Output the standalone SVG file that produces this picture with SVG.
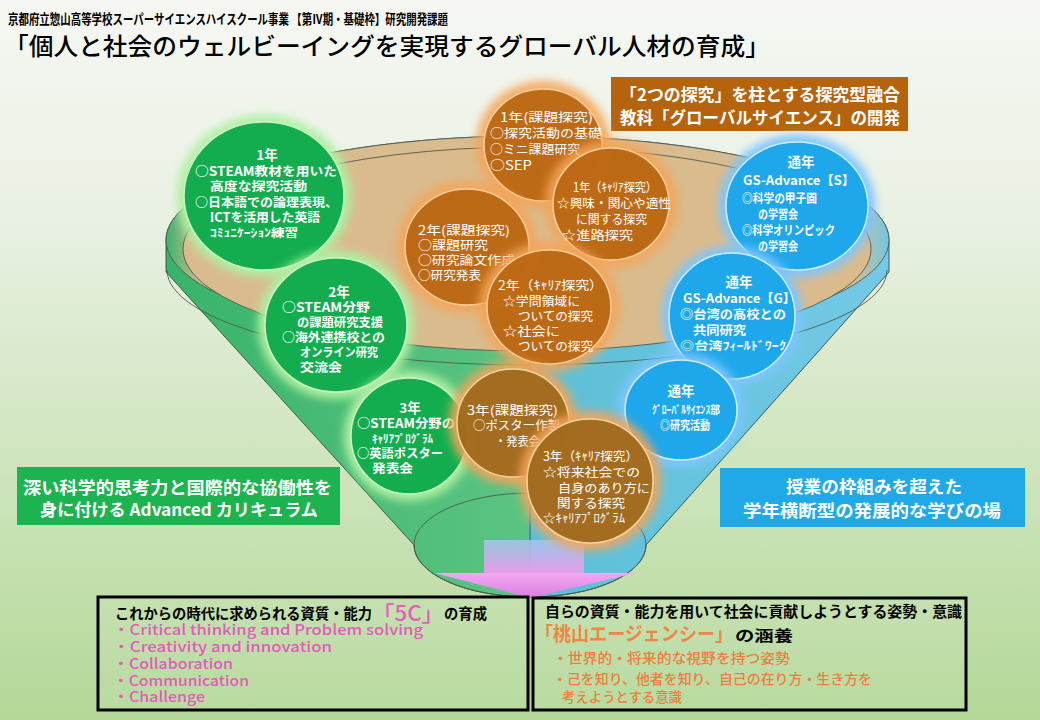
<svg xmlns="http://www.w3.org/2000/svg" width="1040" height="720" viewBox="0 0 1040 720">
<defs>
<linearGradient id="bg" x1="0" y1="0" x2="0" y2="1">
<stop offset="0" stop-color="#f6f7f3"/>
<stop offset="0.3" stop-color="#e9f1e3"/>
<stop offset="1" stop-color="#b3d897"/>
</linearGradient>
<linearGradient id="body" gradientUnits="userSpaceOnUse" x1="166" y1="0" x2="889" y2="0">
<stop offset="0" stop-color="#38b36a"/>
<stop offset="0.5" stop-color="#5cc483"/>
<stop offset="0.503" stop-color="#5bbfd6"/>
<stop offset="1" stop-color="#74c9e6"/>
</linearGradient>
<linearGradient id="rim" gradientUnits="userSpaceOnUse" x1="166" y1="0" x2="889" y2="0">
<stop offset="0" stop-color="#3cb46c"/>
<stop offset="0.05" stop-color="#d8bb8f"/>
<stop offset="0.95" stop-color="#d8bb8f"/>
<stop offset="1" stop-color="#70c7e5"/>
</linearGradient>
<linearGradient id="shaft" x1="0" y1="0" x2="0" y2="1">
<stop offset="0" stop-color="#a9c6f2" stop-opacity="0.8"/>
<stop offset="1" stop-color="#e99be9"/>
</linearGradient>
<linearGradient id="head" x1="0" y1="0" x2="0" y2="1">
<stop offset="0" stop-color="#f2a8f2"/>
<stop offset="1" stop-color="#d97ee2"/>
</linearGradient>
<filter id="blur" x="-40%" y="-40%" width="180%" height="180%">
<feGaussianBlur stdDeviation="5"/>
</filter>
<style>
text { font-family: "Noto Sans CJK JP", "Noto Sans CJK SC", sans-serif; }
.hl { font-size: 13.5px; font-weight: 700; fill: #000; }
.ttl { font-size: 24px; font-weight: 500; fill: #000; }
.cg { fill: #13ad50; stroke: #c9f3c4; stroke-width: 1.5; }
.cb { fill: #b5610c; fill-opacity: 0.86; stroke: #f7cf9a; stroke-width: 1.5; }
.cd { fill: #9a6418; fill-opacity: 0.88; stroke: #f2d6a0; stroke-width: 1.5; }
.cu { fill: #1ea7ea; stroke: #cfefff; stroke-width: 1.5; }
.gg { fill: #aef0a2; filter: url(#blur); }
.gb { fill: #f5a458; filter: url(#blur); opacity: 0.9; }
.gu { fill: #7cc6ff; filter: url(#blur); }
.tg { font-size: 12.5px; font-weight: 700; fill: #fff; }
.tb { font-size: 12.5px; font-weight: 400; fill: #fff; }
.tu { font-size: 12.5px; font-weight: 700; fill: #fff; }
.hk { font-size: 11.5px; }
.yr { font-size: 13.5px; }
.lab { font-size: 17px; font-weight: 700; fill: #fff; }
.ring { fill: none; stroke: #4d5a4d; stroke-width: 0.9; }
.box { fill: #ffffff; fill-opacity: 0.08; stroke: #000; stroke-width: 3; }
.hd { font-size: 14.5px; font-weight: 700; fill: #000; }
.pk { font-size: 14.5px; font-weight: 500; fill: #e05cbd; }
.or { font-size: 14px; font-weight: 500; fill: #ef7c3c; }
</style>
</defs>

<rect x="0" y="0" width="1040" height="720" fill="url(#bg)"/>

<g id="header">
<text class="hl" x="8" y="24" textLength="440" lengthAdjust="spacingAndGlyphs">京都府立惣山高等学校スーパーサイエンスハイスクール事業 【第Ⅳ期・基礎枠】研究開発課題</text>
<text class="ttl" x="4" y="55" textLength="766" lengthAdjust="spacingAndGlyphs">「個人と社会のウェルビーイングを実現するグローバル人材の育成」</text>
</g>

<g id="funnel">
<path d="M166,240 A361.5,104 0 0 1 889,240 L889,272 L646,545 A116,52 0 0 1 414,545 L166,272 Z" fill="url(#body)" stroke="#3d4a3d" stroke-width="0.9"/>
<ellipse cx="527.5" cy="240" rx="361.5" ry="104" fill="url(#rim)" stroke="#4d5a4d" stroke-width="0.9"/>
<ellipse cx="527" cy="249" rx="344" ry="102" fill="#dabb8d" stroke="#4d5a4d" stroke-width="0.9"/>
<path class="ring" d="M167,270 A360,95 0 0 0 887,270"/>
<ellipse class="ring" cx="530" cy="545" rx="116" ry="52"/>
<line x1="530" y1="351" x2="530" y2="597" stroke="#3d4a3d" stroke-width="0.9"/>
</g>

<g id="connectors">
<rect x="484" y="540" width="100" height="34" fill="url(#shaft)"/>
<polygon points="434,573 636,573 530,598" fill="url(#head)"/>
</g>

<g id="node-label-brown">
<rect x="611" y="77" width="297" height="54" fill="#b5640d"/>
<text class="lab" x="620" y="101" textLength="280" lengthAdjust="spacingAndGlyphs">「2つの探究」を柱とする探究型融合</text>
<text class="lab" x="620" y="124" textLength="280" lengthAdjust="spacingAndGlyphs">教科「グローバルサイエンス」の開発</text>
</g>

<g id="node-g1">
<ellipse class="gg" cx="264" cy="196" rx="87" ry="81"/>
<ellipse class="cg" cx="264" cy="196" rx="80" ry="74"/>
<text class="tg yr" x="267" y="160" text-anchor="middle">1年</text>
<text class="tg" x="195" y="175.5" textLength="142" lengthAdjust="spacingAndGlyphs">○STEAM教材を用いた</text>
<text class="tg" x="210" y="191" textLength="97" lengthAdjust="spacingAndGlyphs">高度な探究活動</text>
<text class="tg" x="195" y="206.5" textLength="143" lengthAdjust="spacingAndGlyphs">○日本語での論理表現、</text>
<text class="tg" x="210" y="222" textLength="110" lengthAdjust="spacingAndGlyphs">ICTを活用した英語</text>
<text class="tg hk" x="210" y="236.5" textLength="88" lengthAdjust="spacingAndGlyphs">ｺﾐｭﾆｹｰｼｮﾝ練習</text>
</g>

<g id="node-g2">
<ellipse class="gg" cx="336" cy="325" rx="78" ry="74"/>
<ellipse class="cg" cx="336" cy="325" rx="71" ry="67"/>
<text class="tg yr" x="339" y="297" text-anchor="middle">2年</text>
<text class="tg" x="282" y="312" textLength="88" lengthAdjust="spacingAndGlyphs">○STEAM分野</text>
<text class="tg" x="297" y="327" textLength="86" lengthAdjust="spacingAndGlyphs">の課題研究支援</text>
<text class="tg" x="282" y="342" textLength="103" lengthAdjust="spacingAndGlyphs">○海外連携校との</text>
<text class="tg" x="300" y="357" textLength="78" lengthAdjust="spacingAndGlyphs">オンライン研究</text>
<text class="tg" x="300" y="372" textLength="42" lengthAdjust="spacingAndGlyphs">交流会</text>
</g>

<g id="node-g3">
<ellipse class="gg" cx="409" cy="436" rx="65" ry="65"/>
<ellipse class="cg" cx="409" cy="436" rx="58" ry="58"/>
<text class="tg yr" x="410" y="413" text-anchor="middle">3年</text>
<text class="tg" x="357" y="428" textLength="98" lengthAdjust="spacingAndGlyphs">○STEAM分野の</text>
<text class="tg hk" x="372" y="443" textLength="61" lengthAdjust="spacingAndGlyphs">ｷｬﾘｱﾌﾟﾛｸﾞﾗﾑ</text>
<text class="tg" x="357" y="458" textLength="86" lengthAdjust="spacingAndGlyphs">○英語ポスター</text>
<text class="tg" x="372" y="473" textLength="41" lengthAdjust="spacingAndGlyphs">発表会</text>
</g>

<g id="node-o1">
<ellipse class="gb" cx="543" cy="145" rx="67" ry="64"/>
<ellipse class="cb" cx="543" cy="145" rx="59" ry="56"/>
<text class="tb" x="500" y="122" textLength="93" lengthAdjust="spacingAndGlyphs">1年(課題探究)</text>
<text class="tb" x="490" y="138" textLength="112" lengthAdjust="spacingAndGlyphs">○探究活動の基礎</text>
<text class="tb" x="490" y="154" textLength="90" lengthAdjust="spacingAndGlyphs">○ミニ課題研究</text>
<text class="tb" x="490" y="170" textLength="42" lengthAdjust="spacingAndGlyphs">○SEP</text>
</g>

<g id="node-o2">
<ellipse class="gb" cx="611" cy="204" rx="66" ry="64"/>
<ellipse class="cb" cx="611" cy="204" rx="58" ry="56"/>
<text class="tb" x="573" y="192" textLength="84" lengthAdjust="spacingAndGlyphs">1年（ｷｬﾘｱ探究）</text>
<text class="tb" x="557" y="208" textLength="114" lengthAdjust="spacingAndGlyphs">☆興味・関心や適性</text>
<text class="tb" x="576" y="224" textLength="71" lengthAdjust="spacingAndGlyphs">に関する探究</text>
<text class="tb" x="562" y="240" textLength="71" lengthAdjust="spacingAndGlyphs">☆進路探究</text>
</g>

<g id="node-o3">
<ellipse class="gb" cx="467" cy="247" rx="70" ry="66"/>
<ellipse class="cb" cx="467" cy="247" rx="62" ry="58"/>
<text class="tb" x="418" y="235" textLength="92" lengthAdjust="spacingAndGlyphs">2年(課題探究)</text>
<text class="tb" x="418" y="250" textLength="70" lengthAdjust="spacingAndGlyphs">○課題研究</text>
<text class="tb" x="418" y="265" textLength="97" lengthAdjust="spacingAndGlyphs">○研究論文作成</text>
<text class="tb" x="418" y="280" textLength="63" lengthAdjust="spacingAndGlyphs">○研究発表</text>
</g>

<g id="node-o4">
<ellipse class="gb" cx="549" cy="307" rx="70" ry="65"/>
<ellipse class="cb" cx="549" cy="307" rx="62" ry="57"/>
<text class="tb" x="498" y="290" textLength="105" lengthAdjust="spacingAndGlyphs">2年（ｷｬﾘｱ探究）</text>
<text class="tb" x="503" y="306" textLength="77" lengthAdjust="spacingAndGlyphs">☆学問領域に</text>
<text class="tb" x="518" y="321" textLength="75" lengthAdjust="spacingAndGlyphs">ついての探究</text>
<text class="tb" x="503" y="336" textLength="57" lengthAdjust="spacingAndGlyphs">☆社会に</text>
<text class="tb" x="518" y="351" textLength="75" lengthAdjust="spacingAndGlyphs">ついての探究</text>
</g>

<g id="node-o5">
<ellipse class="gb" cx="513" cy="423" rx="64" ry="62"/>
<ellipse class="cd" cx="513" cy="423" rx="56" ry="54"/>
<text class="tb" x="467" y="415" textLength="91" lengthAdjust="spacingAndGlyphs">3年(課題探究)</text>
<text class="tb" x="473" y="430" textLength="87" lengthAdjust="spacingAndGlyphs">○ポスター作製</text>
<text class="tb" x="495" y="446" textLength="45" lengthAdjust="spacingAndGlyphs">・発表会</text>
</g>

<g id="node-b1">
<ellipse class="gu" cx="797" cy="206" rx="78" ry="71"/>
<ellipse class="cu" cx="797" cy="206" rx="71" ry="64"/>
<text class="tu yr" x="801" y="167" text-anchor="middle">通年</text>
<text class="tu" x="743" y="185" textLength="112" lengthAdjust="spacingAndGlyphs">GS-Advance【S】</text>
<text class="tu" x="742" y="203" textLength="75" lengthAdjust="spacingAndGlyphs">◎科学の甲子園</text>
<text class="tu" x="758" y="219" textLength="40" lengthAdjust="spacingAndGlyphs">の学習会</text>
<text class="tu" x="742" y="235" textLength="93" lengthAdjust="spacingAndGlyphs">◎科学オリンピック</text>
<text class="tu" x="758" y="251" textLength="40" lengthAdjust="spacingAndGlyphs">の学習会</text>
</g>

<g id="node-b2">
<ellipse class="gu" cx="732" cy="316" rx="70" ry="70"/>
<ellipse class="cu" cx="732" cy="316" rx="63" ry="63"/>
<text class="tu yr" x="739" y="287" text-anchor="middle">通年</text>
<text class="tu" x="683" y="303" textLength="113" lengthAdjust="spacingAndGlyphs">GS-Advance【G】</text>
<text class="tu" x="680" y="319" textLength="106" lengthAdjust="spacingAndGlyphs">◎台湾の高校との</text>
<text class="tu" x="693" y="335" textLength="53" lengthAdjust="spacingAndGlyphs">共同研究</text>
<text class="tu hk" x="680" y="350" textLength="106" lengthAdjust="spacingAndGlyphs">◎台湾ﾌｨｰﾙﾄﾞﾜｰｸ</text>
</g>

<g id="node-b3">
<ellipse class="gu" cx="681" cy="410" rx="63" ry="57"/>
<ellipse class="cu" cx="681" cy="410" rx="56" ry="50"/>
<text class="tu yr" x="681" y="396" text-anchor="middle">通年</text>
<text class="tu hk" x="652" y="414" textLength="68" lengthAdjust="spacingAndGlyphs">ｸﾞﾛｰﾊﾞﾙｻｲｴﾝｽ部</text>
<text class="tu" x="660" y="430" textLength="50" lengthAdjust="spacingAndGlyphs">◎研究活動</text>
</g>

<g id="node-o6">
<ellipse class="gb" cx="590" cy="481" rx="71" ry="70"/>
<ellipse class="cd" cx="590" cy="481" rx="63" ry="62"/>
<text class="tb" x="543" y="461" textLength="95" lengthAdjust="spacingAndGlyphs">3年（ｷｬﾘｱ探究）</text>
<text class="tb" x="543" y="477" textLength="97" lengthAdjust="spacingAndGlyphs">☆将来社会での</text>
<text class="tb" x="558" y="493" textLength="92" lengthAdjust="spacingAndGlyphs">自身のあり方に</text>
<text class="tb" x="557" y="508" textLength="68" lengthAdjust="spacingAndGlyphs">関する探究</text>
<text class="tb" x="543" y="523" textLength="82" lengthAdjust="spacingAndGlyphs">☆ｷｬﾘｱﾌﾟﾛｸﾞﾗﾑ</text>
</g>

<g id="node-label-green">
<rect x="17" y="467" width="323" height="58" fill="#1db350"/>
<text class="lab" x="23" y="494" font-size="18" textLength="309" lengthAdjust="spacingAndGlyphs">深い科学的思考力と国際的な協働性を</text>
<text class="lab" x="40" y="516" font-size="18" textLength="278" lengthAdjust="spacingAndGlyphs">身に付ける Advanced カリキュラム</text>
</g>

<g id="node-label-blue">
<rect x="720" y="468" width="305" height="59" fill="#20a9e6"/>
<text class="lab" x="786" y="493" font-size="18" textLength="176" lengthAdjust="spacingAndGlyphs">授業の枠組みを超えた</text>
<text class="lab" x="743" y="517" font-size="18" textLength="258" lengthAdjust="spacingAndGlyphs">学年横断型の発展的な学びの場</text>
</g>

<g id="node-5c">
<rect class="box" x="98" y="597" width="430" height="113"/>
<text class="hd" x="115" y="619" textLength="257" lengthAdjust="spacingAndGlyphs">これからの時代に求められる資質・能力</text>
<text x="372" y="621" font-size="21" font-weight="500" fill="#e45ebf" textLength="72" lengthAdjust="spacingAndGlyphs">「5C」</text>
<text class="hd" x="444" y="619" textLength="43" lengthAdjust="spacingAndGlyphs">の育成</text>
<text class="pk" x="113" y="635" textLength="310" lengthAdjust="spacingAndGlyphs">・Critical thinking and Problem solving</text>
<text class="pk" x="113" y="652" textLength="219" lengthAdjust="spacingAndGlyphs">・Creativity and innovation</text>
<text class="pk" x="113" y="669" textLength="120" lengthAdjust="spacingAndGlyphs">・Collaboration</text>
<text class="pk" x="113" y="686" textLength="136" lengthAdjust="spacingAndGlyphs">・Communication</text>
<text class="pk" x="113" y="702" textLength="92" lengthAdjust="spacingAndGlyphs">・Challenge</text>
</g>

<g id="node-agency">
<rect class="box" x="533" y="598" width="433" height="112"/>
<text class="hd" x="545" y="617" font-size="15" textLength="417" lengthAdjust="spacingAndGlyphs">自らの資質・能力を用いて社会に貢献しようとする姿勢・意識</text>
<text x="535" y="641" font-size="19" font-weight="700" fill="#ef8646" textLength="198" lengthAdjust="spacingAndGlyphs">「桃山エージェンシー」</text>
<text class="hd" x="735" y="641" textLength="58" lengthAdjust="spacingAndGlyphs">の涵養</text>
<text class="or" x="553" y="663" textLength="237" lengthAdjust="spacingAndGlyphs">・世界的・将来的な視野を持つ姿勢</text>
<text class="or" x="553" y="684" textLength="319" lengthAdjust="spacingAndGlyphs">・己を知り、他者を知り、自己の在り方・生き方を</text>
<text class="or" x="562" y="702" textLength="120" lengthAdjust="spacingAndGlyphs">考えようとする意識</text>
</g>
</svg>
